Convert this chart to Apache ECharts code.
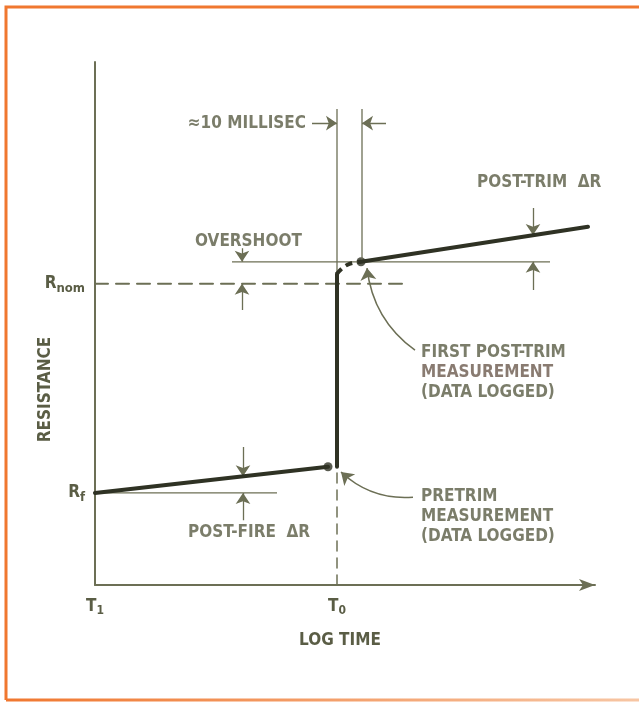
<!DOCTYPE html>
<html>
<head>
<meta charset="utf-8">
<script src="https://cdn.jsdelivr.net/npm/echarts@6/dist/echarts.min.js"></script>
<style>html,body{margin:0;padding:0;background:#fff}</style>
</head>
<body>
<div id="main" style="width:639px;height:702px;"></div>
<script>
// time axis is log time in arbitrary units (T1 = 0), resistance in arbitrary units
var timeTicks = [0, 48.4];
var timeNames = ['T{s|1}', 'T{s|0}'];
var resTicks = [17.6, 57.6];
var resNames = ['R{s|f}', 'R{s|nom}'];

var postFire = [[0, 17.6], [46.6, 22.6]];
var trimJump = [[48.4, 22.6], [48.4, 59.5]];
var overshoot = [[48.4, 59.5], [50.4, 61.2], [53.2, 61.8]];
var postTrim = [[53.2, 61.8], [98.6, 68.5]];
var logged = [[46.6, 22.6], [53.2, 61.8]];
var rnomLine = [[0, 57.6], [63, 57.6]];
var t0Dash = [[48.4, 0], [48.4, 22]];
var refLines = [
  [[0, 17.6], [36.4, 17.6]],
  [[27.4, 61.8], [91, 61.8]],
  [[48.4, 59.5], [48.4, 91]],
  [[53.4, 61.8], [53.4, 91]]
];
var arrows = [
  [[43.4, 88.3], [48.4, 88.3]],
  [[58.2, 88.3], [53.4, 88.3]],
  [[29.4, 64.4], [29.4, 61.8]],
  [[29.4, 52.6], [29.4, 57.6]],
  [[87.6, 72.1], [87.6, 66.9]],
  [[87.6, 56.4], [87.6, 61.8]],
  [[29.6, 26.4], [29.6, 20.8]],
  [[29.6, 12.4], [29.6, 17.6]]
];
var callouts = [
  [[63.6, 16.8], [49.2, 21.6]],
  [[64, 44.9], [54.4, 60.6]]
];
var notes = [
  ['≈10 MILLISEC', [42.2, 88.3], 'right'],
  ['OVERSHOOT', [20, 65.6], 'left'],
  ['POST-TRIM  ΔR', [76.4, 76.9], 'left'],
  ['POST-FIRE  ΔR', [18.6, 10.1], 'left'],
  ['PRETRIM\nMEASUREMENT\n(DATA LOGGED)', [65.2, 13.0], 'left'],
  ['FIRST POST-TRIM\n{m|MEASUREMENT}\n(DATA LOGGED)', [65.2, 40.7], 'left']
];

var ink = '#5a5d45';
var heavy = '#2f3224';
var thin = '#6c6f55';
var font = "'Liberation Sans Narrow', 'DejaVu Sans Condensed', 'Roboto', sans-serif";

function seg(data, width, type) {
  return {
    type: 'line', data: data, symbol: 'none', silent: true,
    lineStyle: { color: type ? thin : heavy, width: width, type: type || 'solid', cap: 'round' }
  };
}

var myChart = echarts.init(document.getElementById('main'));

var series = [
  seg(rnomLine, 2, [13, 8]),
  seg(t0Dash, 1.5, [10, 7])
];
refLines.forEach(function (r) {
  series.push({ type: 'line', data: r, symbol: 'none', silent: true, lineStyle: { color: thin, width: 1.3 } });
});
series.push(seg(postFire, 4));
series.push(seg(trimJump, 4));
series.push({
  type: 'line', data: overshoot, smooth: true, symbol: 'none', silent: true,
  lineStyle: { color: heavy, width: 4, type: [7, 5] }
});
series.push(seg(postTrim, 4));
series.push({
  type: 'scatter', data: logged, symbolSize: 9, silent: true,
  itemStyle: { color: heavy }
});
series.push({
  type: 'lines', coordinateSystem: 'cartesian2d', silent: true,
  symbol: ['none', 'arrow'], symbolSize: [8, 11],
  lineStyle: { color: thin, width: 1.3, opacity: 1 },
  data: arrows.map(function (a) { return { coords: a }; })
});
series.push({
  type: 'lines', coordinateSystem: 'cartesian2d', silent: true,
  symbol: ['none', 'arrow'], symbolSize: [8, 12],
  lineStyle: { color: thin, width: 1.5, opacity: 1, curveness: 0.22 },
  data: callouts.map(function (a) { return { coords: a }; })
});
series.push({
  type: 'scatter', symbolSize: 0, silent: true,
  data: notes.map(function (n) {
    return {
      value: n[1],
      label: {
        show: true, formatter: n[0], position: [0, 0],
        align: n[2], verticalAlign: 'middle',
        color: ink, fontFamily: font, fontSize: 17, fontWeight: 'bold', lineHeight: 20,
        rich: { m: { color: '#6b5a4e', fontFamily: font, fontSize: 17, fontWeight: 'bold', lineHeight: 20 } }
      }
    };
  })
});

var option = {
  animation: false,
  backgroundColor: '#fff',
  grid: { left: 95, right: 44, top: 62, bottom: 117 },
  xAxis: {
    type: 'value', min: 0, max: 100,
    name: 'LOG TIME', nameLocation: 'middle', nameGap: 47,
    nameTextStyle: { color: ink, fontFamily: font, fontSize: 17, fontWeight: 'bold', padding: [0, 10, 0, 0] },
    axisLine: { lineStyle: { color: thin, width: 2 }, symbol: ['none', 'arrow'], symbolSize: [9, 16] },
    axisTick: { show: false },
    splitLine: { show: false },
    axisLabel: {
      customValues: timeTicks, margin: 11,
      formatter: function (v) { return timeNames[timeTicks.indexOf(v)]; },
      color: ink, fontFamily: font, fontSize: 17, fontWeight: 'bold',
      rich: { s: { fontSize: 12, fontFamily: font, fontWeight: 'bold', color: ink, padding: [9, 0, 0, 0] } }
    }
  },
  yAxis: {
    type: 'value', min: 0, max: 100,
    name: 'RESISTANCE', nameLocation: 'middle', nameGap: 41, nameRotate: 90,
    nameMoveOverlap: false,
    nameTextStyle: { color: ink, fontFamily: font, fontSize: 17, fontWeight: 'bold', padding: [0, 132, 0, 0] },
    axisLine: { show: true, lineStyle: { color: thin, width: 2 } },
    axisTick: { show: false },
    splitLine: { show: false },
    axisLabel: {
      customValues: resTicks, margin: 10,
      formatter: function (v) { return resNames[resTicks.indexOf(v)]; },
      color: ink, fontFamily: font, fontSize: 17, fontWeight: 'bold',
      rich: { s: { fontSize: 13, fontFamily: font, fontWeight: 'bold', color: ink, padding: [10, 0, 0, 0] } }
    }
  },
  graphic: [
    { type: 'polyline', shape: { points: [[640, 7], [6, 7], [6, 700]] }, style: { stroke: '#f0772f', lineWidth: 3, fill: null } },
    {
      type: 'line', shape: { x1: 6, y1: 700, x2: 640, y2: 700 },
      style: {
        lineWidth: 3,
        stroke: new echarts.graphic.LinearGradient(0, 0, 1, 0, [
          { offset: 0, color: '#f0772f' }, { offset: 1, color: '#f7c6a4' }
        ])
      }
    }
  ],
  series: series
};

myChart.setOption(option);
</script>
</body>
</html>
